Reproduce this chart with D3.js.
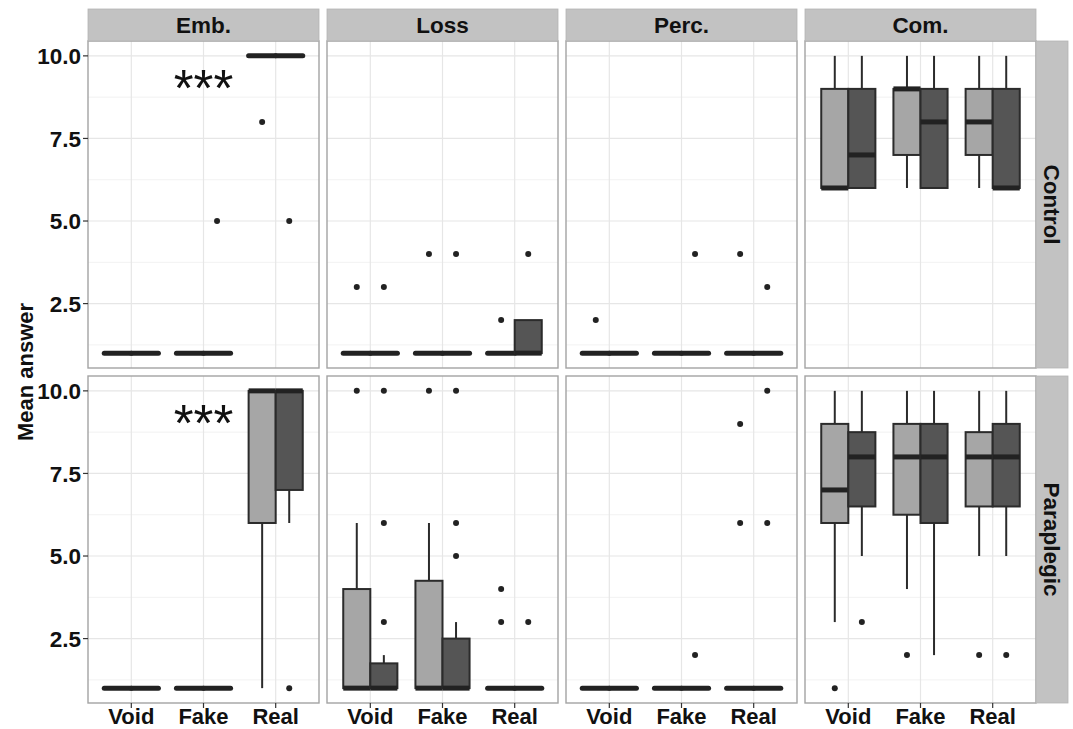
<!DOCTYPE html>
<html>
<head>
<meta charset="utf-8">
<script src="https://cdn.jsdelivr.net/npm/d3@7"></script>
<style>
  html, body { margin: 0; padding: 0; background: #fff; }
  svg { display: block; }
  text { font-family: "Liberation Sans", Arial, Helvetica, sans-serif; }
</style>
</head>
<body>
<svg id="chart" width="1073" height="729"></svg>
<script>
// ---------------- data ----------------
const facets = ["Emb.", "Loss", "Perc.", "Com."];
const groups = ["Control", "Paraplegic"];
const conditions = ["Void", "Fake", "Real"];
const seriesKeys = ["first", "second"];
const seriesFill = ["#a6a6a6", "#555555"];
const yTicks = [2.5, 5.0, 7.5, 10.0];
const yMinor = [1.25, 3.75, 6.25, 8.75];

// each box: [lowerWhisker, q1, median, q3, upperWhisker, outliers]
// order: Void-first, Void-second, Fake-first, Fake-second, Real-first, Real-second
const controlEmb = [
  [1, 1, 1, 1, 1, []], [1, 1, 1, 1, 1, []],
  [1, 1, 1, 1, 1, []], [1, 1, 1, 1, 1, [5]],
  [10, 10, 10, 10, 10, [8]], [10, 10, 10, 10, 10, [5]]
];
const controlLoss = [
  [1, 1, 1, 1, 1, [3]], [1, 1, 1, 1, 1, [3]],
  [1, 1, 1, 1, 1, [4]], [1, 1, 1, 1, 1, [4]],
  [1, 1, 1, 1, 1, [2]], [1, 1, 1, 2, 2, [4]]
];
const controlPerc = [
  [1, 1, 1, 1, 1, [2]], [1, 1, 1, 1, 1, []],
  [1, 1, 1, 1, 1, []], [1, 1, 1, 1, 1, [4]],
  [1, 1, 1, 1, 1, [4]], [1, 1, 1, 1, 1, [3]]
];
const controlCom = [
  [6, 6, 6, 9, 10, []], [6, 6, 7, 9, 10, []],
  [6, 7, 9, 9, 10, []], [6, 6, 8, 9, 10, []],
  [6, 7, 8, 9, 10, []], [6, 6, 6, 9, 10, []]
];
const paraEmb = [
  [1, 1, 1, 1, 1, []], [1, 1, 1, 1, 1, []],
  [1, 1, 1, 1, 1, []], [1, 1, 1, 1, 1, []],
  [1, 6, 10, 10, 10, []], [6, 7, 10, 10, 10, [1]]
];
const paraLoss = [
  [1, 1, 1, 4, 6, [10]], [1, 1, 1, 1.75, 2, [3, 6, 10]],
  [1, 1, 1, 4.25, 6, [10]], [1, 1, 1, 2.5, 3, [5, 6, 10]],
  [1, 1, 1, 1, 1, [3, 4]], [1, 1, 1, 1, 1, [3]]
];
const paraPerc = [
  [1, 1, 1, 1, 1, []], [1, 1, 1, 1, 1, []],
  [1, 1, 1, 1, 1, []], [1, 1, 1, 1, 1, [2]],
  [1, 1, 1, 1, 1, [6, 9]], [1, 1, 1, 1, 1, [6, 10]]
];
const paraCom = [
  [3, 6, 7, 9, 10, [1]], [5, 6.5, 8, 8.75, 10, [3]],
  [4, 6.25, 8, 9, 10, [2]], [2, 6, 8, 9, 10, []],
  [5, 6.5, 8, 8.75, 10, [2]], [5, 6.5, 8, 9, 10, [2]]
];
const panelData = [
  [controlEmb, controlLoss, controlPerc, controlCom],
  [paraEmb, paraLoss, paraPerc, paraCom]
];

// significance annotation
const starFacet = "Emb.";
const starCondition = "Fake";
const starValue = 9.33;
const starLabel = "***";

const yTitle = "Mean answer";

// ---------------- layout ----------------
const panelLeft = 88, panelW = 231, colGap = 8;
const panelTop = 41, panelH = 327, rowGap = 8;
const stripH = 32, stripW = 32;

const svg = d3.select("#chart");

const y = d3.scaleLinear().domain([0.55, 10.45]).range([panelH, 0]);
const x = d3.scalePoint().domain(conditions).range([0, panelW]).padding(0.6);
const dodge = d3.scaleBand().domain(seriesKeys).range([-x.step() * 0.375, x.step() * 0.375]);

const lineCol = "#2b2b2b";

groups.forEach((g, r) => {
  facets.forEach((f, c) => {
    const px = panelLeft + c * (panelW + colGap);
    const py = panelTop + r * (panelH + rowGap);
    const p = svg.append("g").attr("transform", `translate(${px},${py})`);

    p.append("rect").attr("width", panelW).attr("height", panelH).attr("fill", "#fff");

    // grid
    p.selectAll("line.minor").data(yMinor).join("line")
      .attr("x1", 0).attr("x2", panelW)
      .attr("y1", d => y(d)).attr("y2", d => y(d))
      .attr("stroke", "#f2f2f2").attr("stroke-width", 1);
    p.selectAll("line.major").data(yTicks).join("line")
      .attr("x1", 0).attr("x2", panelW)
      .attr("y1", d => y(d)).attr("y2", d => y(d))
      .attr("stroke", "#e6e6e6").attr("stroke-width", 1.2);
    p.selectAll("line.vmaj").data(conditions).join("line")
      .attr("x1", d => x(d)).attr("x2", d => x(d))
      .attr("y1", 0).attr("y2", panelH)
      .attr("stroke", "#e6e6e6").attr("stroke-width", 1.2);

    // boxes
    const data = panelData[r][c];
    const boxes = [];
    conditions.forEach((cond, i) => {
      seriesKeys.forEach((s, j) => {
        const b = data[i * 2 + j];
        boxes.push({cond, s, j, lo: b[0], q1: b[1], med: b[2], q3: b[3], hi: b[4], out: b[5]});
      });
    });
    const bw = dodge.bandwidth();
    boxes.forEach(b => {
      const cx = x(b.cond) + dodge(b.s) + bw / 2;
      const bg = p.append("g");
      if (b.hi > b.q3) bg.append("line").attr("x1", cx).attr("x2", cx)
        .attr("y1", y(b.q3)).attr("y2", y(b.hi)).attr("stroke", lineCol).attr("stroke-width", 2);
      if (b.lo < b.q1) bg.append("line").attr("x1", cx).attr("x2", cx)
        .attr("y1", y(b.q1)).attr("y2", y(b.lo)).attr("stroke", lineCol).attr("stroke-width", 2);
      bg.append("rect")
        .attr("x", x(b.cond) + dodge(b.s)).attr("width", bw)
        .attr("y", y(b.q3)).attr("height", y(b.q1) - y(b.q3))
        .attr("fill", seriesFill[b.j]).attr("stroke", lineCol).attr("stroke-width", 2);
      bg.append("line")
        .attr("x1", x(b.cond) + dodge(b.s)).attr("x2", x(b.cond) + dodge(b.s) + bw)
        .attr("y1", y(b.med)).attr("y2", y(b.med))
        .attr("stroke", "#222").attr("stroke-width", 5)
        .attr("stroke-linecap", b.q1 === b.q3 ? "round" : "butt");
      bg.selectAll("circle").data(b.out).join("circle")
        .attr("cx", cx).attr("cy", d => y(d)).attr("r", 3).attr("fill", "#222");
    });

    // annotation
    if (f === starFacet) {
      p.append("text").attr("x", x(starCondition)).attr("y", y(starValue) + 28)
        .attr("text-anchor", "middle").attr("font-size", 51).attr("fill", "#111")
        .text(starLabel);
    }

    // border
    p.append("rect").attr("width", panelW).attr("height", panelH)
      .attr("fill", "none").attr("stroke", "#a3a3a3").attr("stroke-width", 1.4);

    // top strip
    if (r === 0) {
      const s = svg.append("g").attr("transform", `translate(${px},${panelTop - stripH})`);
      s.append("rect").attr("width", panelW).attr("height", stripH)
        .attr("fill", "#c2c2c2").attr("stroke", "#b5b5b5").attr("stroke-width", 0.8);
      s.append("text").attr("x", panelW / 2).attr("y", 24)
        .attr("text-anchor", "middle").attr("font-size", 22.5).attr("font-weight", "bold")
        .attr("fill", "#111").text(f);
    }
    // right strip
    if (c === facets.length - 1) {
      const s = svg.append("g").attr("transform", `translate(${px + panelW},${py})`);
      s.append("rect").attr("width", stripW).attr("height", panelH)
        .attr("fill", "#c2c2c2").attr("stroke", "#b5b5b5").attr("stroke-width", 0.8);
      s.append("text").attr("transform", `translate(${stripW / 2},${panelH / 2}) rotate(90)`)
        .attr("text-anchor", "middle").attr("dy", "0.35em")
        .attr("font-size", 22.5).attr("font-weight", "bold").attr("fill", "#111").text(g);
    }
    // y axis
    if (c === 0) {
      const ya = p.append("g");
      ya.selectAll("line").data(yTicks).join("line")
        .attr("x1", -5).attr("x2", 0).attr("y1", d => y(d)).attr("y2", d => y(d))
        .attr("stroke", "#333").attr("stroke-width", 1.2);
      ya.selectAll("text").data(yTicks).join("text")
        .attr("x", -7).attr("y", d => y(d)).attr("dy", "0.36em")
        .attr("text-anchor", "end").attr("font-size", 22.5).attr("font-weight", "bold")
        .attr("fill", "#111").text(d => d3.format(".1f")(d));
    }
    // x axis
    if (r === groups.length - 1) {
      const xa = p.append("g").attr("transform", `translate(0,${panelH})`);
      xa.selectAll("line").data(conditions).join("line")
        .attr("x1", d => x(d)).attr("x2", d => x(d)).attr("y1", 0).attr("y2", 5)
        .attr("stroke", "#333").attr("stroke-width", 1.2);
      xa.selectAll("text").data(conditions).join("text")
        .attr("x", d => x(d)).attr("y", 21)
        .attr("text-anchor", "middle").attr("font-size", 22).attr("font-weight", "bold")
        .attr("fill", "#111").text(d => d);
    }
  });
});

// y title
const midY = panelTop + (2 * panelH + rowGap) / 2;
svg.append("text").attr("transform", `translate(33,${midY}) rotate(-90)`)
  .attr("text-anchor", "middle").attr("font-size", 22).attr("font-weight", "bold")
  .attr("fill", "#111").text(yTitle);
</script>
</body>
</html>
